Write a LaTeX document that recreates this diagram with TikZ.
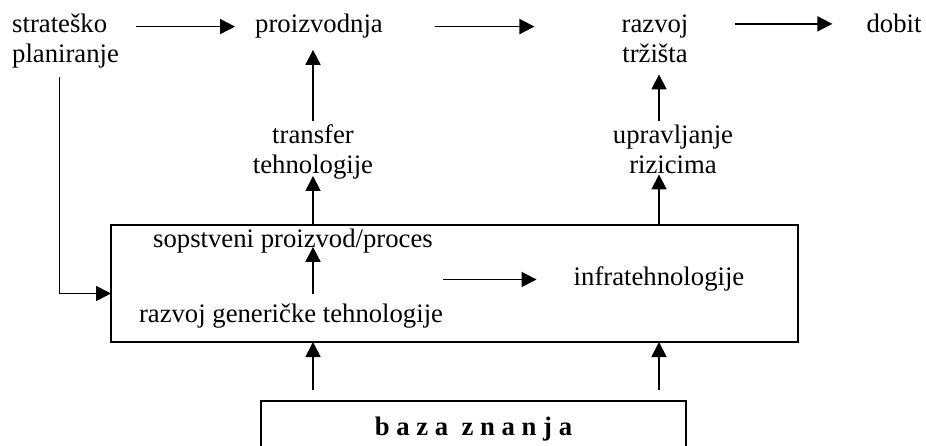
\documentclass[tikz,border=0pt]{standalone}
\usepackage{fontspec}
\setmainfont{Liberation Serif}
\usetikzlibrary{arrows.meta}
\tikzset{
  lbl/.style={inner sep=0pt, align=center, font=\fontsize{26.7}{30}\selectfont},
  arr/.style={line width=1.8pt, -{Triangle[length=15pt,width=15pt]}},
  frame/.style={draw, line width=1.8pt, inner sep=0pt, outer sep=0pt}
}
\begin{document}
\begin{tikzpicture}[x=1pt,y=-1pt]
\useasboundingbox (0,0) rectangle (926,446);
\clip (0,0) rectangle (926,446);
% top row (base = last line)
\node[lbl, anchor=base west, align=left] (strat) at (12,63) {strateško\\planiranje};
\node[lbl, anchor=base] (proiz) at (319,33) {proizvodnja};
\node[lbl, anchor=base] (trziste) at (655,63) {razvoj\\tržišta};
\node[lbl, anchor=base] (dobit) at (894,33) {dobit};
% middle row
\node[lbl, anchor=base] (transfer) at (313,174) {transfer\\tehnologije};
\node[lbl, anchor=base] (rizik) at (673,174) {upravljanje\\rizicima};
% technology box
\node[frame, anchor=north west, minimum width=687pt, minimum height=117pt] (tehno) at (111,225) {};
\node[lbl, anchor=base] (sop) at (293,248) {sopstveni proizvod/proces};
\node[lbl, anchor=base] (gen) at (291,323) {razvoj generičke tehnologije};
\node[lbl, anchor=base] (infra) at (659,286) {infratehnologije};
% knowledge base
\node[frame, anchor=north, minimum width=425pt, minimum height=56pt,
  font=\fontsize{26.7}{30}\selectfont\bfseries] (baza) at (473.5,401) {b a z a\ \ z n a n j a};
% arrows along the top
\draw[arr, shorten <=17pt, shorten >=20pt] (strat.east |- proiz.west) -- (proiz.west);
\draw[arr, shorten <=52pt, shorten >=87pt] (proiz.east) -- (proiz.east -| trziste.west);
\draw[arr, shorten <=46pt, shorten >=34pt] (trziste.east |- dobit.west) -- (dobit.west);
% left column
\draw[arr, shorten <=4pt, shorten >=11pt] (transfer.north) -- (transfer.north |- proiz.south);
\draw[arr, shorten >=-4pt] (tehno.north -| transfer) -- (transfer.south);
\draw[arr, shorten <=10pt, shorten >=-7pt] (gen.north -| transfer) -- (sop.south -| transfer);
\draw[arr, shorten <=11pt] (baza.north -| transfer) -- (tehno.south -| transfer);
% right column
\draw[arr, shorten <=4pt, shorten >=11pt] (rizik.north -| infra) -- (trziste.south -| infra);
\draw[arr] (tehno.north -| infra) -- (rizik.south -| infra);
\draw[arr, shorten <=11pt] (baza.north -| infra) -- (tehno.south -| infra);
% inside the box
\draw[arr, shorten >=37pt] (gen.east |- infra.west) -- (infra.west);
% planning feeds the box
\draw[arr, shorten <=8pt] ([xshift=-6pt]strat.south) |- ([yshift=-10pt]tehno.west);
\end{tikzpicture}
\end{document}
